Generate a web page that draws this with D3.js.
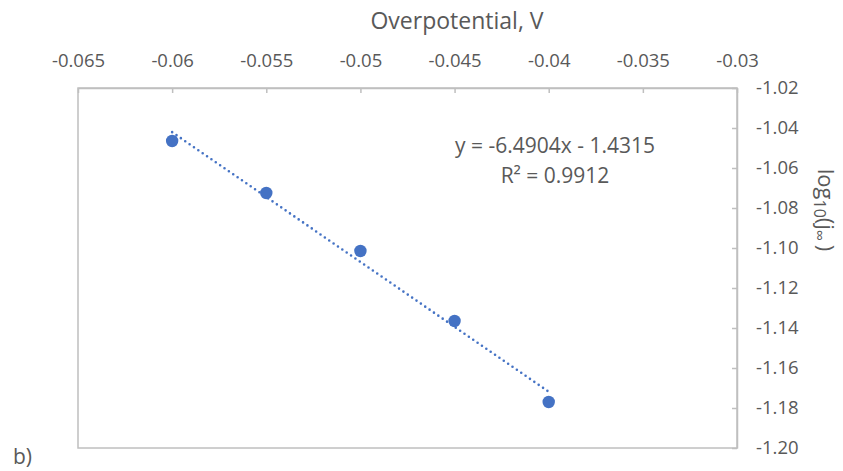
<!DOCTYPE html>
<html><head><meta charset="utf-8">
<script src="https://cdn.jsdelivr.net/npm/d3@7"></script>
<style>
body{margin:0;background:#fff;}
svg text{font-family:"Open Sans",Lato,sans-serif;fill:#595959;}
</style></head>
<body><svg id="c" width="843" height="471"></svg>
<script>
const overpotential = [-0.06, -0.055, -0.05, -0.045, -0.04];
const logJ = [-1.0465, -1.0725, -1.1015, -1.1365, -1.177];
const xTicks = [-0.065, -0.06, -0.055, -0.05, -0.045, -0.04, -0.035, -0.03];
const yTicks = [-1.02, -1.04, -1.06, -1.08, -1.10, -1.12, -1.14, -1.16, -1.18, -1.20];
const trendSlope = -6.4904;
const trendIntercept = -1.4315;
const trendRange = [-0.06, -0.04];
const equationLines = ["y = -6.4904x - 1.4315", "R² = 0.9912"];

const svg = d3.select("#c");
const L = 78, R = 737, T = 88, B = 448;
const x = d3.scaleLinear().domain([-0.065, -0.03]).range([L, R]);
const y = d3.scaleLinear().domain([-1.02, -1.20]).range([T, B]);
const grey = "#bfbfbf";

svg.append("rect").attr("x", L).attr("y", T).attr("width", R - L).attr("height", B - T)
  .attr("fill", "none").attr("stroke", grey).attr("stroke-width", 1.5);

const xa = svg.append("g").attr("transform", `translate(0,${T})`)
  .call(d3.axisTop(x).tickValues(xTicks).tickSizeInner(-5).tickSizeOuter(0).tickPadding(21));
xa.select(".domain").attr("stroke", grey).attr("stroke-width", 1.5);
xa.selectAll(".tick line").attr("stroke", grey).attr("stroke-width", 1.5);
xa.selectAll("text").attr("font-size", 18.5).attr("font-family", null).style("fill", "#595959")
  .text(d => String(+d.toFixed(3)));

const ya = svg.append("g").attr("transform", `translate(${R},0)`)
  .call(d3.axisRight(y).tickValues(yTicks).tickSizeInner(-5).tickSizeOuter(0).tickPadding(19));
ya.select(".domain").attr("stroke", grey).attr("stroke-width", 1.5);
ya.selectAll(".tick line").attr("stroke", grey).attr("stroke-width", 1.5);
ya.selectAll("text").attr("font-size", 18.5).attr("font-family", null).style("fill", "#595959")
  .text(d => d.toFixed(2));

// trendline
const tl = trendRange.map(v => [v, trendSlope * v + trendIntercept]);
svg.append("path").datum(tl)
  .attr("d", d3.line().x(d => x(d[0])).y(d => y(d[1])))
  .attr("stroke", "#4472c4").attr("stroke-width", 2.6).attr("fill", "none")
  .attr("stroke-dasharray", "0 5.3").attr("stroke-linecap", "round");

// points
svg.append("g").selectAll("circle").data(overpotential).join("circle")
  .attr("cx", d => x(d)).attr("cy", (d, i) => y(logJ[i])).attr("r", 6.2)
  .attr("fill", "#4472c4");

// equation
svg.append("g").selectAll("text").data(equationLines).join("text")
  .attr("x", 555).attr("y", (d, i) => 153 + i * 30)
  .attr("text-anchor", "middle").attr("font-size", 21).text(d => d);

// titles
svg.append("text").attr("x", 457).attr("y", 29).attr("text-anchor", "middle")
  .attr("font-size", 23).text("Overpotential, V");

const yt = svg.append("text").attr("transform", "translate(818,210) rotate(90)")
  .attr("text-anchor", "middle").attr("font-size", 22);
yt.append("tspan").text("log");
yt.append("tspan").attr("font-size", 16).attr("dy", 4).text("10");
yt.append("tspan").attr("dy", -4).text("(j");
yt.append("tspan").attr("font-size", 16).attr("dy", 4).text("∞");
yt.append("tspan").attr("dy", -4).text("\u2009)");

svg.append("text").attr("x", 13).attr("y", 464).attr("font-size", 21).text("b)");
</script></body></html>
